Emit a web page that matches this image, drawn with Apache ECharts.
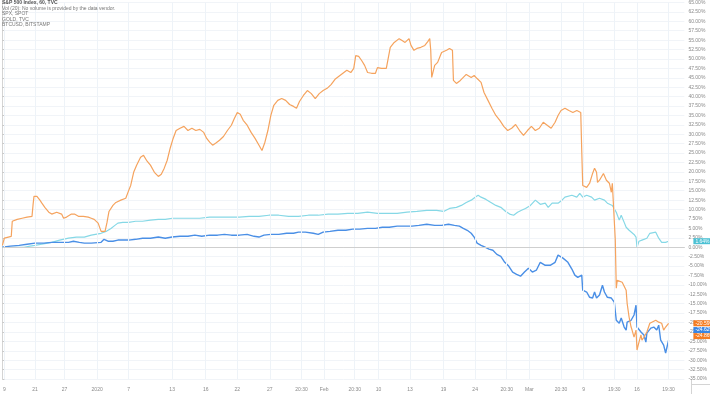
<!DOCTYPE html>
<html>
<head>
<meta charset="utf-8">
<script src="https://cdn.jsdelivr.net/npm/echarts@6/dist/echarts.min.js"></script>
<style>
html,body{margin:0;padding:0;background:#fff}
#main{width:710px;height:394px}
</style>
</head>
<body>
<div id="main"></div>
<script>
// time axis: bar index along the compressed session timeline
var tickPos = [2,33,63,96,128,172,206,238,271,303,326,357,381,413,447,479,511,534,566,589,620,643,675];
var tickText = ['9','21','27','2020','7','13','16','22','27','20:30','Feb','20:30','10','13','19','24','20:30','Mar','20:30','9','19:30','16','19:30'];

// BTCUSD, % change
var btcBars = [0,2,6,9,10,15,20,25,30,31,
	32,35,38,40,43,47,50,52,55,57,
	60,62,65,67,70,73,77,82,87,90,
	93,97,100,102,104,106,108,112,115,120,
	122,125,127,128,130,133,136,140,143,146,
	150,154,158,161,164,167,170,173,176,180,
	184,188,192,196,200,204,207,210,213,216,
	220,224,228,232,235,238,241,244,248,252,
	256,260,263,266,269,272,275,279,283,287,
	291,295,298,301,305,309,313,317,321,325,
	329,333,337,341,345,349,353,356,358,361,
	364,367,370,374,378,380,384,389,391,393,
	397,402,405,408,412,414,417,420,424,428,
	431,433,434,435,438,441,445,450,453,456,
	457,460,464,467,470,475,478,481,485,488,
	492,496,500,504,508,512,516,520,524,528,
	532,536,540,544,548,552,556,560,563,566,
	570,574,578,582,586,587,588,592,595,598,
	600,602,603,605,607,609,612,615,617,618,
	620,621,622,623,625,628,630,632,633,635,
	637,638,640,642,643,645,647,648,650,653,
	656,658,662,665,668,670,672,675];
var btcPct = [0.5,2.4,2.7,2.9,6.9,7.4,7.7,8.0,8.2,11.1,
	13.5,13.5,12.5,11.7,10.6,9.3,8.8,8.5,9.3,9.8,
	8.8,7.7,8.0,8.2,8.8,8.8,8.2,8.2,8.0,7.7,
	7.4,6.4,4.2,4.0,4.2,6.6,9.5,11.1,11.9,12.5,
	13.0,13.0,13.5,15.1,16.4,19.9,21.8,23.9,24.4,23.1,
	21.8,19.9,18.8,19.4,21.0,23.1,26.3,28.9,31.0,31.6,
	32.1,31.0,31.6,31.0,31.3,30.5,28.9,27.9,27.1,27.6,
	28.4,29.4,31.0,32.4,34.2,35.8,35.3,33.7,32.4,30.5,
	28.9,27.1,25.7,27.9,31.0,35.0,37.7,39.0,39.5,39.0,
	37.9,37.4,36.9,38.7,40.3,41.6,40.8,39.5,40.8,41.6,
	42.2,43.2,44.6,45.4,46.2,47.0,46.4,47.5,50.9,50.7,
	49.6,48.3,46.4,46.2,46.2,47.7,47.5,47.5,47.7,53.1,
	54.4,55.4,54.9,54.4,55.4,53.6,52.3,52.8,53.1,53.6,
	54.6,55.4,52.3,45.1,48.3,49.1,51.7,52.3,52.8,52.3,
	44.3,43.5,44.3,45.1,45.9,45.1,45.6,44.8,43.8,41.1,
	39.0,36.9,35.0,33.7,32.1,31.0,31.6,32.6,31.0,29.7,
	31.0,32.1,31.0,31.6,33.2,32.4,31.6,33.2,35.0,36.3,
	36.9,36.3,35.8,36.3,35.8,25.7,16.4,15.9,17.0,19.6,
	21.0,19.9,17.2,17.8,18.3,19.6,17.8,17.0,14.6,17.0,
	17.2,1.9,-10.9,-8.8,-8.5,-9.3,-9.0,-11.4,-14.9,-18.6,
	-21.2,-22.0,-23.9,-22.0,-27.3,-25.2,-23.3,-24.7,-23.9,-22.5,
	-20.2,-19.9,-19.4,-19.9,-20.2,-22.0,-21.2,-20.2];

// S&P 500, % change
var spxBars = [0,8,17,25,33,42,50,60,67,72,
	78,83,90,100,103,107,112,117,122,128,
	135,142,150,158,165,172,180,188,195,202,
	210,218,225,232,240,248,255,260,265,272,
	280,288,295,300,307,315,320,325,332,340,
	348,355,362,370,378,385,392,400,408,415,
	422,430,438,445,452,458,463,467,471,475,
	478,481,485,489,493,497,501,505,509,513,
	517,521,525,529,533,537,541,545,550,555,
	560,563,565,568,573,577,580,583,587,588,
	592,595,598,600,602,605,608,610,613,617,
	620,622,625,627,630,632,633,635,637,638,
	640,642,643,645,647,650,652,653,657,660,
	663,665,667,670,672,673,675];
var spxPct = [0,0.3,0.5,0.8,1.1,1.1,1.3,1.3,1.3,1.6,
	1.3,1.1,1.1,1.3,2.1,1.6,1.6,1.9,1.9,1.9,
	2.1,2.4,2.4,2.7,2.4,2.7,2.9,2.9,3.2,2.9,
	3.2,3.2,3.4,3.2,3.2,3.4,2.9,2.7,3.2,3.4,
	3.4,3.7,3.7,4.0,4.0,3.7,3.4,4.0,4.2,4.5,
	4.5,4.8,4.8,5.0,5.0,5.3,5.3,5.6,5.6,5.6,
	5.8,6.1,5.8,5.8,6.1,5.8,5.6,5.0,4.5,3.7,
	2.7,1.1,0.5,0,-0.5,-0.8,-1.9,-2.4,-4.0,-5.0,
	-6.6,-7.2,-7.7,-6.6,-5.6,-6.6,-6.1,-4.0,-4.8,-4.8,
	-4.0,-2.1,-1.6,-2.9,-4.0,-5.8,-7.4,-8.0,-7.4,-11.4,
	-11.9,-13.3,-13.5,-11.9,-13.5,-12.7,-10.1,-11.9,-13.3,-13.5,
	-14.6,-19.4,-20.2,-18.8,-21.2,-22.0,-19.9,-20.2,-19.4,-19.9,
	-18.0,-15.4,-21.2,-20.7,-22.5,-23.3,-25.2,-22.8,-21.5,-21.2,
	-22.0,-20.7,-24.7,-26.0,-28.1,-28.1,-24.7];

// GOLD, % change
var goldBars = [0,8,15,22,28,33,40,50,58,67,
	75,83,90,100,105,110,114,117,122,128,
	135,142,150,158,165,172,180,190,200,210,
	220,230,240,250,260,270,280,290,300,310,
	320,330,340,350,360,370,380,390,400,410,
	420,430,440,447,453,460,465,470,475,479,
	482,485,490,495,500,505,510,514,518,522,
	526,530,535,540,545,550,553,557,563,567,
	570,577,578,582,585,588,592,597,600,605,
	610,613,618,622,625,627,630,632,635,640,
	642,643,645,648,650,653,656,658,662,665,
	668,672,675];
var goldPct = [0,0,0,0,0.3,0.5,0.8,1.3,1.9,2.4,
	2.7,2.7,3.2,3.7,4.2,5.0,5.8,6.4,6.6,6.6,
	6.9,6.9,7.2,7.4,7.4,7.7,7.7,7.7,7.7,8.0,
	8.0,8.0,8.0,8.2,8.2,8.5,8.5,8.2,8.2,8.5,
	8.5,8.8,8.8,9.0,9.0,9.3,9.0,9.0,9.0,9.3,
	9.5,9.8,9.8,9.5,10.3,10.6,11.1,11.9,12.5,13.3,
	13.8,13.3,12.7,11.9,11.1,10.6,9.5,8.8,8.5,9.3,
	9.8,10.3,11.1,12.5,11.4,11.7,10.6,11.7,11.7,12.5,
	13.3,13.8,14.3,13.3,14.3,13.3,13.8,13.3,12.5,13.0,
	12.5,11.7,11.1,9.3,7.2,8.5,6.6,5.3,4.5,3.4,
	2.7,0,1.6,1.9,2.4,2.4,3.7,4.2,4.0,2.4,
	1.3,1.3,1.6];

// last value tags on the price scale
var tagText = ['1.64%','-20.59%','-24.62%','-24.86%'];
var tagAt = [1.6,-20.2,-22.0,-23.6];
var tagColor = ['#4cc1d4','#f57c22','#3a86e4','#f57c22'];

function pairs(bars, vals){
	return vals.map(function(v, i){ return [bars[i], v]; });
}

var option = {
	animation: false,
	backgroundColor: '#fff',
	textStyle: { fontFamily: 'Liberation Sans' },
	title: {
		text: 'S&P 500 Index, 60, TVC',
		subtext: 'Vol (20): No volume is provided by the data vendor.\nSPX, SPOT\nGOLD, TVC\nBTCUSD, BITSTAMP',
		left: 2, top: 0, padding: 0, itemGap: 0,
		textStyle: { fontSize: 5, fontWeight: 'bold', color: '#555', lineHeight: 6 },
		subtextStyle: { fontSize: 5, color: '#777', lineHeight: 5.3 }
	},
	grid: { left: 0, right: 19, top: 2, bottom: 15 },
	xAxis: {
		type: 'value', min: 0, max: 691, offset: 5,
		axisLine: { show: true, lineStyle: { color: '#d4d4d4' } },
		axisTick: { show: true, length: 2, customValues: tickPos, lineStyle: { color: '#c8c8c8' } },
		axisLabel: {
			customValues: tickPos, fontSize: 5, margin: 3, color: '#8a8a8a',
			formatter: function(v){ var i = tickPos.indexOf(v); return i >= 0 ? tickText[i] : ''; }
		},
		splitLine: { show: false }
	},
	yAxis: {
		type: 'value', position: 'right', min: -35, max: 65, interval: 2.5,
		axisLine: { show: true, lineStyle: { color: '#d4d4d4' } },
		axisTick: { show: true, length: 2, lineStyle: { color: '#c8c8c8' } },
		axisLabel: {
			fontSize: 5, margin: 4, color: '#8a8a8a', showMinLabel: true, showMaxLabel: true,
			formatter: function(v){ return v.toFixed(2) + '%'; }
		},
		splitLine: { show: true, lineStyle: { color: '#f1f4f8' } }
	},
	graphic: [
		{ type: 'line', shape: { x1: 691.5, y1: 379, x2: 691.5, y2: 394 }, style: { stroke: '#d4d4d4' } },
		{ type: 'line', shape: { x1: 691, y1: 384.5, x2: 710, y2: 384.5 }, style: { stroke: '#d4d4d4' } }
	],
	series: [
		{
			name: 'grid', type: 'line', data: [], z: 1, silent: true,
			markLine: {
				silent: true, symbol: 'none', animation: false,
				label: { show: false },
				data: tickPos.map(function(p){
					return { xAxis: p, lineStyle: { color: '#eef3f8', width: 1, type: 'solid' } };
				}).concat([{ yAxis: 0, lineStyle: { color: '#cfcfcf', width: 1, type: 'solid' } }])
			}
		},
		{
			name: 'GOLD', type: 'line', data: pairs(goldBars, goldPct), z: 3,
			showSymbol: false, symbol: 'none',
			lineStyle: { color: '#86d8e6', width: 1.2 }
		},
		{
			name: 'S&P 500', type: 'line', data: pairs(spxBars, spxPct), z: 4,
			showSymbol: false, symbol: 'none',
			lineStyle: { color: '#4a8fe6', width: 1.4 }
		},
		{
			name: 'BTCUSD', type: 'line', data: pairs(btcBars, btcPct), z: 5,
			showSymbol: false, symbol: 'none',
			lineStyle: { color: '#f5a35e', width: 1.2 }
		},
		{
			name: 'tags', type: 'line', data: [], z: 6, silent: true, clip: false,
			markLine: {
				silent: true, symbol: 'none', animation: false,
				lineStyle: { color: 'rgba(0,0,0,0)', width: 0 },
				data: tagText.map(function(t, i){
					return {
						yAxis: tagAt[i],
						label: {
							show: true, position: 'end', distance: 9, formatter: t,
							backgroundColor: tagColor[i], color: '#fff', fontSize: 5,
							lineHeight: 6, padding: [0, 2]
						}
					};
				})
			}
		}
	]
};

var myChart = echarts.init(document.getElementById('main'));
myChart.setOption(option);
</script>
</body>
</html>
